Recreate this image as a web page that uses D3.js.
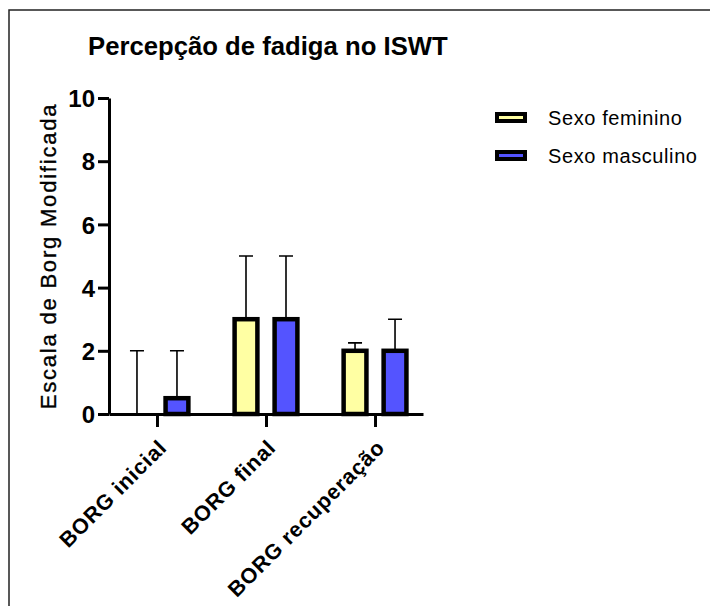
<!DOCTYPE html>
<html>
<head>
<meta charset="utf-8">
<script src="https://cdn.jsdelivr.net/npm/d3@7"></script>
<style>
	body { margin: 0; background: #fff; }
	svg { display: block; font-family: Arial, "Liberation Sans", sans-serif; }
</style>
</head>
<body>
<div id="svg_container"></div>
<script>

/* -----------------------
data
------------------------- */

var categories = ["BORG inicial", "BORG final", "BORG recuperação"];
var series = ["Sexo feminino", "Sexo masculino"];
var colors = ["#FFFFA3", "#5454FF"];

// mean and error (upper bar) per category
var feminino = [0, 3, 2];
var masculino = [0.5, 3, 2];
var errFeminino = [2, 2, 0.25];
var errMasculino = [1.5, 2, 1];

var yTicks = [0, 2, 4, 6, 8, 10];

/* -----------------------
main variables
------------------------- */

var width = 710;
var height = 606;

var svg = d3.select("#svg_container")
	.append("svg")
	.attr("width", width)
	.attr("height", height)

// frame
svg.append("path")
	.attr("d", "M9," + height + "V10H" + width)
	.attr("fill", "none")
	.attr("stroke", "#222")
	.attr("stroke-width", 1.5)

/* -----------------------
scales
------------------------- */

var y = d3.scaleLinear()
	.domain([0, 10])
	.range([414, 98])

var x = d3.scalePoint()
	.domain(categories)
	.range([109, 423])
	.padding(0.44)

var xSub = d3.scaleBand()
	.domain(series)
	.range([-40, 40])
	.paddingInner(0.43)
	.paddingOuter(0.215)

var data = categories.map(function (c, i) {
	return [
		{cat: c, s: series[0], v: feminino[i], e: errFeminino[i], color: colors[0]},
		{cat: c, s: series[1], v: masculino[i], e: errMasculino[i], color: colors[1]}
	]
})

/* -----------------------
bars
------------------------- */

var group = svg.selectAll(".group")
	.data(data)
	.enter()
	.append("g")
	.attr("class", "group")
	.attr("transform", function (d) {
		return "translate(" + x(d[0].cat) + ",0)"
	})

// error bars (upper only)
group.selectAll(".err")
	.data(function (d) { return d })
	.enter()
	.append("path")
	.attr("class", "err")
	.attr("d", function (d) {
		var cx = xSub(d.s) + xSub.bandwidth() / 2;
		var top = y(d.v + d.e);
		return "M" + cx + "," + y(d.v) + "V" + top + "M" + (cx - 7) + "," + top + "H" + (cx + 7)
	})
	.attr("fill", "none")
	.attr("stroke", "#000")
	.attr("stroke-width", 1.6)

group.selectAll(".bar")
	.data(function (d) { return d })
	.enter()
	.append("rect")
	.attr("class", "bar")
	.attr("x", function (d) { return xSub(d.s) })
	.attr("width", xSub.bandwidth())
	.attr("y", function (d) { return y(d.v) })
	.attr("height", function (d) { return y(0) - y(d.v) })
	.attr("fill", function (d) { return d.color })
	.attr("stroke", "#000")
	.attr("stroke-width", 4.5)

/* -----------------------
axes
------------------------- */

var yAxis = svg.append("g")
	.attr("transform", "translate(109,0)")
	.call(d3.axisLeft(y).tickValues(yTicks).tickSize(11).tickSizeOuter(0).tickPadding(3))

var xAxis = svg.append("g")
	.attr("transform", "translate(0,414)")
	.call(d3.axisBottom(x).tickSize(13).tickSizeOuter(0).tickFormat(""))

svg.selectAll(".domain, .tick line")
	.attr("stroke", "#000")
	.attr("stroke-width", 3)

yAxis.selectAll("text")
	.attr("font-size", 24)
	.attr("font-weight", "bold")
	.attr("fill", "#000")
	.attr("dy", "0.36em")

// rotated category labels
svg.selectAll(".xlabel")
	.data(categories)
	.enter()
	.append("text")
	.attr("class", "xlabel")
	.attr("transform", function (d) {
		return "translate(" + (x(d) + 11) + ",449) rotate(-45)"
	})
	.attr("text-anchor", "end")
	.attr("font-size", 21.5)
	.attr("font-weight", "bold")
	.attr("letter-spacing", 0.8)
	.text(function (d) { return d })

// y title
svg.append("text")
	.attr("transform", "translate(56,256) rotate(-90)")
	.attr("text-anchor", "middle")
	.attr("font-size", 22)
	.attr("letter-spacing", 1.8)
	.attr("stroke", "#000")
	.attr("stroke-width", 0.35)
	.text("Escala de Borg Modificada")

// title
svg.append("text")
	.attr("x", 88)
	.attr("y", 55)
	.attr("font-size", 25.7)
	.attr("font-weight", "bold")
	.text("Percepção de fadiga no ISWT")

/* -----------------------
legend
------------------------- */

var legend = svg.selectAll(".legend")
	.data(series)
	.enter()
	.append("g")
	.attr("class", "legend")
	.attr("transform", function (d, i) {
		return "translate(497," + (114 + i * 38) + ")"
	})

legend.append("rect")
	.attr("width", 28)
	.attr("height", 7)
	.attr("fill", function (d, i) { return colors[i] })
	.attr("stroke", "#000")
	.attr("stroke-width", 4)

legend.append("text")
	.attr("x", 51)
	.attr("y", 11)
	.attr("font-size", 20)
	.attr("letter-spacing", 0.6)
	.text(function (d) { return d })

</script>
</body>
</html>
